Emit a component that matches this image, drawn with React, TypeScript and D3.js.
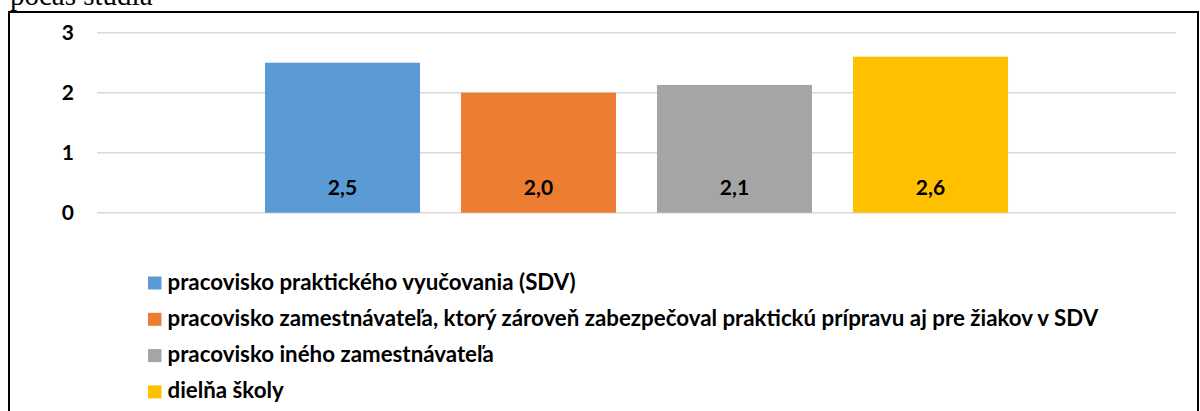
import React from "react";
import * as d3 from "d3";

const seriesNames: string[] = [
  "pracovisko praktického vyučovania (SDV)",
  "pracovisko zamestnávateľa, ktorý zároveň zabezpečoval praktickú prípravu aj pre žiakov v SDV",
  "pracovisko iného zamestnávateľa",
  "dielňa školy",
];
const seriesValues: number[] = [2.5, 2.0, 2.13, 2.6];
const seriesColors: string[] = ["#5B9BD5", "#ED7D31", "#A5A5A5", "#FFC000"];
const yTicks: number[] = [0, 1, 2, 3];
const captionText = "počas štúdia";

const W = 1200;
const H = 411;
const FONT = "Lato, 'Open Sans', sans-serif";

export default function App() {
  const plotLeft = 97;
  const plotRight = 1176;
  const plotTop = 32.7;
  const plotBottom = 212.7;

  const y = d3.scaleLinear().domain([0, 3]).range([plotBottom, plotTop]);
  const x = d3
    .scaleBand<string>()
    .domain(seriesNames)
    .range([plotLeft, plotRight])
    .paddingInner(0.209)
    .paddingOuter(0.857);

  const fmt = (v: number) => v.toFixed(1).replace(".", ",");

  const legendX = 148;
  const legendY0 = 283;
  const legendStep = 36.3;

  return (
    <div style={{ position: "fixed", left: 0, top: 0, width: W, height: H, background: "#fff" }}>
      <svg width={W} height={H} style={{ display: "block" }}>
        <rect x={0} y={0} width={W} height={H} fill="#fff" />
        <text
          x={10}
          y={4.5}
          fontFamily="'Liberation Serif', 'Times New Roman', serif"
          fontSize={29}
          fill="#000"
        >
          {captionText}
        </text>
        <rect x={9} y={12} width={1189} height={420} fill="none" stroke="#000" strokeWidth={2} />

        {yTicks.map((t) => (
          <g key={t}>
            <line
              x1={plotLeft}
              x2={plotRight}
              y1={y(t)}
              y2={y(t)}
              stroke="#D9D9D9"
              strokeWidth={1.5}
            />
            <text
              x={74}
              y={y(t) + 7.3}
              textAnchor="end"
              fontFamily={FONT}
              fontWeight={700}
              fontSize={21}
              fill="#000"
            >
              {t}
            </text>
          </g>
        ))}

        {seriesNames.map((s, i) => (
          <g key={s}>
            <rect
              x={x(s)}
              y={y(seriesValues[i])}
              width={x.bandwidth()}
              height={y(0) - y(seriesValues[i])}
              fill={seriesColors[i]}
            />
            <text
              x={(x(s) as number) + x.bandwidth() / 2}
              y={195}
              textAnchor="middle"
              fontFamily={FONT}
              fontWeight={700}
              fontSize={21}
              fill="#000"
            >
              {fmt(seriesValues[i])}
            </text>
          </g>
        ))}

        {seriesNames.map((s, i) => (
          <g key={"lg" + i} transform={`translate(${legendX},${legendY0 + i * legendStep})`}>
            <rect x={0} y={-6.5} width={13.5} height={13} fill={seriesColors[i]} />
            <text
              x={19.5}
              y={6.5}
              fontFamily={FONT}
              fontWeight={700}
              fontSize={22.3}
              fill="#000"
            >
              {s}
            </text>
          </g>
        ))}
      </svg>
    </div>
  );
}
